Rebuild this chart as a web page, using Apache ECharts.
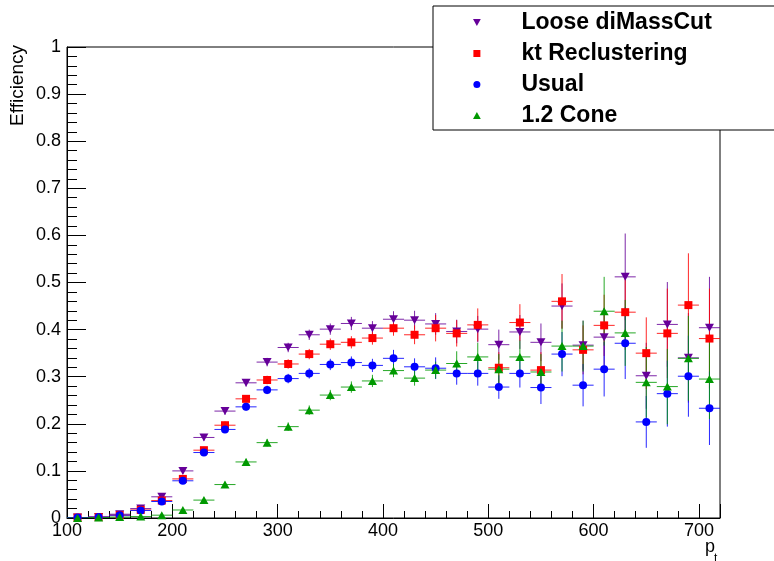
<!DOCTYPE html>
<html>
<head>
<meta charset="utf-8">
<script src="https://cdn.jsdelivr.net/npm/echarts@6/dist/echarts.min.js"></script>
<style>
  html, body { margin: 0; padding: 0; background: #fff; }
  #chart { width: 774px; height: 561px; }
</style>
</head>
<body>
<div id="chart"></div>
<script>
// Bin centres in p_t (bins are 20 wide)
const ptBins = [110, 130, 150, 170, 190, 210, 230, 250, 270, 290, 310, 330, 350, 370, 390,
                410, 430, 450, 470, 490, 510, 530, 550, 570, 590, 610, 630, 650, 670, 690, 710];
const binHalfWidth = 10;

// Efficiency per bin and its uncertainty, one pair of arrays per selection
const looseDiMassCut = [0.001, 0.002, 0.008, 0.020, 0.045, 0.100, 0.171, 0.227, 0.287, 0.331, 0.362, 0.389, 0.401, 0.413, 0.403,
                        0.422, 0.420, 0.412, 0.396, 0.401, 0.368, 0.395, 0.373, 0.450, 0.367, 0.384, 0.512, 0.302, 0.411, 0.340, 0.404];
const looseDiMassCutErr = [0.001, 0.001, 0.002, 0.003, 0.004, 0.006, 0.007, 0.008, 0.008, 0.009, 0.010, 0.011, 0.012, 0.014, 0.015,
                           0.017, 0.020, 0.023, 0.025, 0.028, 0.032, 0.036, 0.040, 0.048, 0.052, 0.062, 0.092, 0.070, 0.090, 0.095, 0.108];

const ktReclustering = [0.001, 0.002, 0.006, 0.017, 0.037, 0.083, 0.144, 0.197, 0.253, 0.293, 0.327, 0.348, 0.369, 0.373, 0.382,
                        0.403, 0.389, 0.403, 0.392, 0.410, 0.319, 0.415, 0.314, 0.460, 0.357, 0.409, 0.437, 0.350, 0.392, 0.452, 0.381];
const ktReclusteringErr = [0.001, 0.001, 0.002, 0.003, 0.004, 0.006, 0.007, 0.008, 0.008, 0.009, 0.010, 0.011, 0.012, 0.013, 0.014,
                           0.016, 0.020, 0.028, 0.028, 0.035, 0.033, 0.039, 0.038, 0.058, 0.052, 0.065, 0.080, 0.076, 0.095, 0.110, 0.106];

const usual = [0.001, 0.002, 0.006, 0.016, 0.035, 0.079, 0.139, 0.188, 0.236, 0.272, 0.296, 0.307, 0.326, 0.330, 0.324,
               0.339, 0.321, 0.318, 0.307, 0.307, 0.278, 0.307, 0.277, 0.348, 0.282, 0.316, 0.371, 0.204, 0.264, 0.301, 0.233];
const usualErr = [0.001, 0.001, 0.002, 0.003, 0.004, 0.005, 0.006, 0.007, 0.008, 0.009, 0.010, 0.011, 0.012, 0.013, 0.014,
                  0.018, 0.018, 0.023, 0.024, 0.026, 0.025, 0.030, 0.035, 0.047, 0.045, 0.058, 0.076, 0.055, 0.070, 0.086, 0.078];

const cone12 = [0.000, 0.001, 0.002, 0.003, 0.006, 0.017, 0.038, 0.071, 0.119, 0.160, 0.194, 0.229, 0.261, 0.278, 0.291,
                0.313, 0.297, 0.314, 0.328, 0.342, 0.316, 0.342, 0.310, 0.365, 0.365, 0.439, 0.393, 0.288, 0.279, 0.339, 0.295];
const cone12Err = [0.001, 0.001, 0.001, 0.002, 0.002, 0.004, 0.005, 0.006, 0.007, 0.008, 0.009, 0.010, 0.011, 0.012, 0.013,
                   0.014, 0.016, 0.018, 0.026, 0.030, 0.032, 0.035, 0.038, 0.054, 0.054, 0.073, 0.070, 0.075, 0.080, 0.090, 0.085];

const seriesDefs = [
  { name: 'Loose diMassCut', values: looseDiMassCut, errors: looseDiMassCutErr, color: '#660099',
    symbol: 'path://M0,0 L10,0 L5,9 Z', size: [9, 8] },
  { name: 'kt Reclustering', values: ktReclustering, errors: ktReclusteringErr, color: '#ff0000',
    symbol: 'path://M0,0 L10,0 L10,10 L0,10 Z', size: 8 },
  { name: 'Usual', values: usual, errors: usualErr, color: '#0000ff',
    symbol: 'circle', size: 8 },
  { name: '1.2 Cone', values: cone12, errors: cone12Err, color: '#009900',
    symbol: 'path://M5,0 L10,9 L0,9 Z', size: [9, 8] }
];

const fontFamily = '"Liberation Sans", Arial, Helvetica, sans-serif';

function errorBarRenderer(color) {
  return function (params, api) {
    const x = api.value(0), y = api.value(1), e = api.value(2);
    const c = api.coord([x, y]);
    const hi = api.coord([x, y + e]);
    const lo = api.coord([x, y - e]);
    const l = api.coord([x - binHalfWidth, y]);
    const r = api.coord([x + binHalfWidth, y]);
    const style = { stroke: color, lineWidth: 1, opacity: 0.85 };
    return {
      type: 'group',
      children: [
        { type: 'line', shape: { x1: c[0], y1: hi[1], x2: c[0], y2: lo[1] }, style: style },
        { type: 'line', shape: { x1: l[0], y1: c[1], x2: r[0], y2: c[1] }, style: style }
      ]
    };
  };
}

const series = [];
seriesDefs.forEach(function (s) {
  series.push({
    type: 'custom',
    name: s.name + ' errors',
    xAxisIndex: 0, yAxisIndex: 0,
    renderItem: errorBarRenderer(s.color),
    data: ptBins.map(function (x, i) { return [x, s.values[i], s.errors[i]]; }),
    clip: true,
    silent: true
  });
  series.push({
    type: 'scatter',
    name: s.name,
    xAxisIndex: 0, yAxisIndex: 0,
    symbol: s.symbol,
    symbolSize: s.size,
    itemStyle: { color: s.color, opacity: 1 },
    data: ptBins.map(function (x, i) { return [x, s.values[i]]; }),
    silent: true
  });
});

const chart = echarts.init(document.getElementById('chart'), null, { renderer: 'canvas' });
chart.setOption({
  animation: false,
  backgroundColor: '#ffffff',
  grid: {
    left: 67, top: 47, right: 54, bottom: 43,
    show: true, borderColor: '#000', borderWidth: 1, backgroundColor: '#fff'
  },
  xAxis: [
    {
      type: 'value', min: 100, max: 720, interval: 100, position: 'bottom',
      axisLine: { show: true, lineStyle: { color: '#000', width: 1 } },
      axisTick: { show: true, inside: true, length: 14, lineStyle: { color: '#000' } },
      axisLabel: {
        color: '#000', fontSize: 18, fontFamily: fontFamily, margin: 4,
        formatter: function (v) { return v % 100 === 0 ? String(v) : ''; }
      },
      splitLine: { show: false }
    },
    {
      type: 'value', min: 100, max: 720, interval: 20, position: 'bottom',
      axisLine: { show: false },
      axisTick: { show: true, inside: true, length: 7, lineStyle: { color: '#000' } },
      axisLabel: { show: false },
      splitLine: { show: false }
    }
  ],
  yAxis: {
    type: 'value', min: 0, max: 1, interval: 0.1,
    axisLine: { show: true, lineStyle: { color: '#000', width: 1 } },
    axisTick: { show: true, inside: true, length: 19, lineStyle: { color: '#000' } },
    minorTick: { show: true, splitNumber: 5, length: 10, lineStyle: { color: '#000' } },
    axisLabel: { color: '#000', fontSize: 18, fontFamily: fontFamily, margin: 6 },
    splitLine: { show: false },
    minorSplitLine: { show: false }
  },
  legend: {
    data: seriesDefs.map(function (s) { return s.name; }),
    orient: 'vertical',
    left: 433, top: 6,
    padding: [5, 300, 3, 40],
    itemWidth: 9, itemHeight: 7, itemGap: 8,
    backgroundColor: '#fff', borderColor: '#000', borderWidth: 1, borderRadius: 0,
    selectedMode: false,
    textStyle: { fontFamily: fontFamily, fontWeight: 'bold', fontSize: 23, lineHeight: 23, color: '#000',
                 padding: [0, 0, 0, 35] }
  },
  graphic: [
    {
      type: 'text', x: 18, y: 45, rotation: Math.PI / 2,
      style: { text: 'Efficiency', align: 'right', verticalAlign: 'middle',
               font: '19px ' + fontFamily, fill: '#000' }
    },
    {
      type: 'text', x: 705, y: 538,
      style: { text: 'p', align: 'left', verticalAlign: 'top', font: '18px ' + fontFamily, fill: '#000' }
    },
    {
      type: 'text', x: 714, y: 553,
      style: { text: 't', align: 'left', verticalAlign: 'top', font: '12px ' + fontFamily, fill: '#000' }
    }
  ],
  series: series
});
</script>
</body>
</html>
